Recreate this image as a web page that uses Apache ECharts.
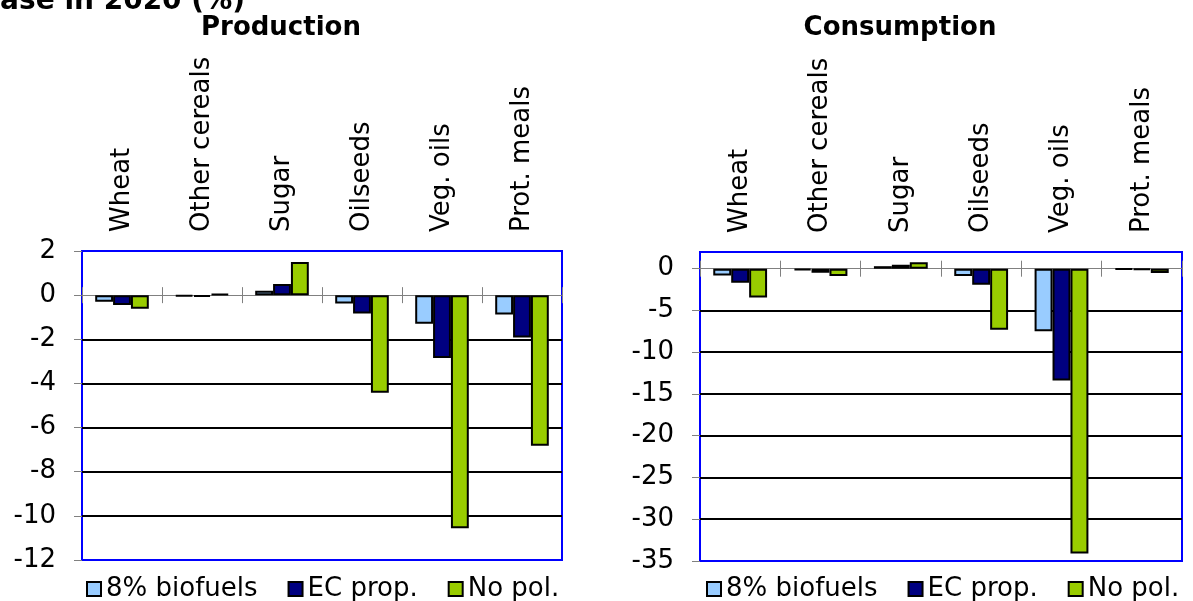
<!DOCTYPE html>
<html>
<head>
<meta charset="utf-8">
<script src="https://cdn.jsdelivr.net/npm/echarts@6/dist/echarts.min.js"></script>
<style>
  html, body { margin: 0; padding: 0; background: #ffffff; }
  #chart { width: 1193px; height: 601px; }
</style>
</head>
<body>
<div id="chart"></div>
<script>
// Commodity groups on the category axis
const categories = ['Wheat', 'Other cereals', 'Sugar', 'Oilseeds', 'Veg. oils', 'Prot. meals'];
const seriesNames = ['8% biofuels', 'EC prop.', 'No pol.'];

// Production change vs. base in 2020 (%)
const productionBiofuels8 = [-0.3, -0.05, 0.2, -0.38, -1.3, -0.88];
const productionECProp    = [-0.45, -0.08, 0.5, -0.83, -2.85, -1.92];
const productionNoPol     = [-0.62, 0.05, 1.5, -4.42, -10.56, -6.82];

// Consumption change vs. base in 2020 (%)
const consumptionBiofuels8 = [-0.8, -0.2, 0.3, -0.88, -7.48, -0.1];
const consumptionECProp    = [-1.68, -0.48, 0.48, -1.92, -13.4, -0.15];
const consumptionNoPol     = [-3.44, -0.88, 0.76, -7.32, -34.1, -0.5];

// Value-axis tick labels
const productionTicks  = [-12, -10, -8, -6, -4, -2, 0, 2];
const consumptionTicks = [-35, -30, -25, -20, -15, -10, -5, 0];
const consumptionAxisMax = 2;

const seriesColors = ['#99CCFF', '#000080', '#99CC00'];
const FONT = 'DejaVu Sans';

// Black gridlines everywhere except the zero line and the frame edges
function gridColors(ticks, max) {
  const all = ticks.slice();
  if (all[all.length - 1] !== max) all.push(max);
  const lo = all[0], hi = all[all.length - 1];
  return all.map(v => (v === 0 || v === lo || v === hi) ? 'rgba(0,0,0,0)' : '#000000');
}

function valueAxis(gridIndex, ticks, max) {
  return {
    type: 'value',
    gridIndex: gridIndex,
    min: ticks[0],
    max: max,
    interval: ticks[1] - ticks[0],
    axisLine: { show: false },
    axisTick: { show: true, length: 8, lineStyle: { color: '#808080', width: 1 } },
    axisLabel: {
      color: '#000', fontFamily: FONT, fontSize: 26, margin: 26,
      showMaxLabel: max === ticks[ticks.length - 1]
    },
    splitLine: {
      show: true, showMinLine: true, showMaxLine: true,
      lineStyle: { color: gridColors(ticks, max), width: 2 }
    }
  };
}

// yIndex: the value axis whose zero the category line sits on
function categoryAxes(gridIndex, yIndex) {
  return [
    { // zero line with downward ticks (bars bind here)
      type: 'category', gridIndex: gridIndex, data: categories, position: 'bottom',
      axisLine: { show: true, onZero: true, onZeroAxisIndex: yIndex,
                  lineStyle: { color: '#808080', width: 1 } },
      axisTick: { show: true, interval: 0, length: 8, lineStyle: { color: '#808080', width: 1 } },
      axisLabel: { show: false }, splitLine: { show: false }
    },
    { // upward ticks on the zero line
      type: 'category', gridIndex: gridIndex, data: categories, position: 'bottom',
      axisLine: { show: true, onZero: true, onZeroAxisIndex: yIndex,
                  lineStyle: { color: 'rgba(0,0,0,0)', width: 1 } },
      axisTick: { show: true, interval: 0, inside: true, length: 8,
                  lineStyle: { color: '#808080', width: 1 } },
      axisLabel: { show: false }, splitLine: { show: false }
    },
    { // category names above the frame
      type: 'category', gridIndex: gridIndex, data: categories, position: 'top',
      axisLine: { show: false, onZero: false },
      axisTick: { show: false },
      axisLabel: {
        show: true, interval: 0, rotate: -90, margin: 19,
        color: '#000', fontFamily: FONT, fontSize: 26
      },
      splitLine: { show: false }
    }
  ];
}

function barSeries(name, data, color, xAxisIndex, yAxisIndex) {
  return {
    type: 'bar', name: name, data: data,
    xAxisIndex: xAxisIndex, yAxisIndex: yAxisIndex,
    barGap: '0%', barCategoryGap: '33%',
    itemStyle: { color: color, borderColor: '#000', borderWidth: 2 },
    emphasis: { disabled: true }
  };
}

function legendAt(left, gap) {
  return {
    data: seriesNames, left: left, top: 571, orient: 'horizontal',
    icon: 'rect', itemWidth: 14, itemHeight: 14, itemGap: gap,
    textStyle: { color: '#000', fontFamily: FONT, fontSize: 26, padding: [0, 0, 0, 0] },
    selectedMode: false
  };
}

const chart = echarts.init(document.getElementById('chart'), null, { renderer: 'canvas' });

const option = {
  animation: false,
  backgroundColor: '#ffffff',
  grid: [
    { left: 82, top: 251, width: 480, height: 309, show: true,
      backgroundColor: '#ffffff', borderColor: '#0000FF', borderWidth: 2, containLabel: false },
    { left: 700, top: 252, width: 482, height: 309, show: true,
      backgroundColor: '#ffffff', borderColor: '#0000FF', borderWidth: 2, containLabel: false }
  ],
  xAxis: categoryAxes(0, 0).concat(categoryAxes(1, 1)),
  yAxis: [
    valueAxis(0, productionTicks, productionTicks[productionTicks.length - 1]),
    valueAxis(1, consumptionTicks, consumptionAxisMax)
  ],
  legend: [legendAt(81, 30), legendAt(701, 30)],
  graphic: [
    { type: 'text', x: 245, y: 16, silent: true,
      style: { text: 'Change relative to base in 2020 (%)', fill: '#000',
               font: 'bold 28px "DejaVu Sans"', textAlign: 'right', textVerticalAlign: 'bottom' } },
    { type: 'text', x: 281, y: 28, silent: true,
      style: { text: 'Production', fill: '#000', font: 'bold 26px "DejaVu Sans"',
               textAlign: 'center', textVerticalAlign: 'middle' } },
    { type: 'text', x: 900, y: 28, silent: true,
      style: { text: 'Consumption', fill: '#000', font: 'bold 26px "DejaVu Sans"',
               textAlign: 'center', textVerticalAlign: 'middle' } }
  ],
  series: [
    barSeries(seriesNames[0], productionBiofuels8, seriesColors[0], 0, 0),
    barSeries(seriesNames[1], productionECProp, seriesColors[1], 0, 0),
    barSeries(seriesNames[2], productionNoPol, seriesColors[2], 0, 0),
    barSeries(seriesNames[0], consumptionBiofuels8, seriesColors[0], 3, 1),
    barSeries(seriesNames[1], consumptionECProp, seriesColors[1], 3, 1),
    barSeries(seriesNames[2], consumptionNoPol, seriesColors[2], 3, 1)
  ]
};

chart.setOption(option);
</script>
</body>
</html>
